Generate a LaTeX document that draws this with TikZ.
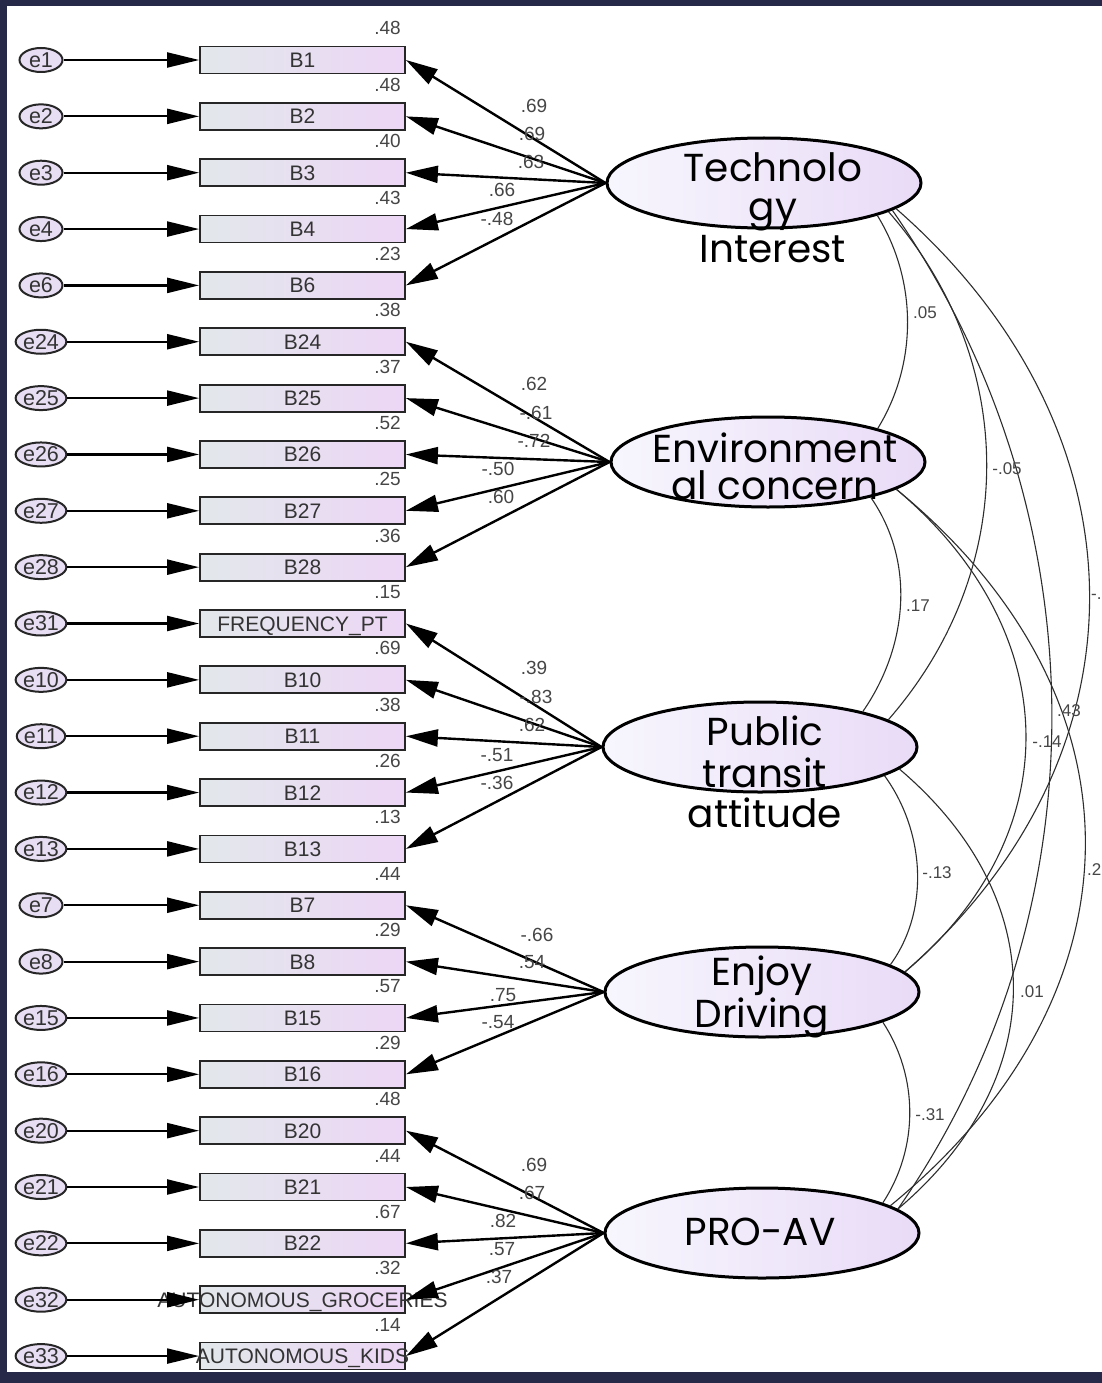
\documentclass[tikz,border=0pt]{standalone}
\usepackage{fontspec}
\setmainfont{Liberation Sans}
\newfontfamily\gothicfont{Poppins}
\usepackage{tikz}
\usetikzlibrary{arrows.meta,shapes.geometric}
\definecolor{framenavy}{RGB}{38,41,72}
\definecolor{boxL}{RGB}{226,232,235}
\definecolor{boxR}{RGB}{237,214,246}
\definecolor{latL}{RGB}{247,246,253}
\definecolor{latR}{RGB}{233,219,247}
\definecolor{errfill}{RGB}{232,222,244}
\definecolor{numgray}{RGB}{70,70,70}
\definecolor{linkgray}{RGB}{45,45,45}

\begin{document}
\begin{tikzpicture}[x=1pt,y=-1pt,
    obsbox/.style={draw=black!85,line width=1.8pt,left color=boxL,right color=boxR,
      minimum width=205pt,minimum height=27pt,inner sep=0pt,text height=15pt,text depth=0pt,
      font=\fontsize{21}{21}\selectfont,text=black!80},
    errnode/.style={ellipse,draw=black!85,line width=2pt,fill=errfill,minimum width=43pt,
      minimum height=24pt,inner sep=0pt,font=\fontsize{21.5}{21.5}\selectfont,text=black!80},
    latent/.style={ellipse,draw,line width=3pt,left color=latL,right color=latR,
      minimum width=314pt,minimum height=90pt,inner sep=0pt},
    lattext/.style={anchor=base,inner sep=0pt,font=\gothicfont\fontsize{39}{39}\selectfont},
    errarrow/.style={line width=2.2pt,-{Triangle[length=32pt,width=15pt]}},
    load/.style={line width=2.4pt,-{Triangle[length=32pt,width=17pt]}},
    cov/.style={line width=1.1pt,linkgray},
    num/.style={inner sep=0pt,text=numgray,font=\fontsize{19}{19}\selectfont},
    covnum/.style={inner sep=0pt,text=numgray,font=\fontsize{17}{17}\selectfont}]
  \useasboundingbox (0,0) rectangle (1102,1383);
  \fill[framenavy] (0,0) rectangle (1102,1383);
  \fill[white] (7,6) rectangle (1102,1372);

  % latent factors
  \node[latent] (tech) at (764,183) {};
  \node[latent] (env) at (768,462) {};
  \node[latent] (pub) at (760,747) {};
  \node[latent] (enj) at (762,992) {};
  \node[latent] (pro) at (762,1233) {};
  \node[lattext] (tech1) at (773,182) {Technolo};
  \node[lattext] (tech2) at (773,220) {gy};
  \node[lattext] (tech3) at (773,262) {Interest};
  \node[lattext] (env1) at (775,462) {Environment};
  \node[lattext] (env2) at (775,499) {al concern};
  \node[lattext] (pub1) at (765,745) {Public};
  \node[lattext] (pub2) at (765,787) {transit};
  \node[lattext] (pub3) at (765,827) {attitude};
  \node[lattext] (enj1) at (762,985) {Enjoy};
  \node[lattext] (enj2) at (762,1027) {Driving};
  \node[lattext] (pro1) at (760,1245) {PRO-AV};

  % covariances
  \draw[cov] (tech.-16) .. controls +(40,65) and +(40,-65) .. (env.17);
  \draw[cov] (env.-19) .. controls +(45,65) and +(45,-65) .. (pub.19);
  \draw[cov] (pub.-13) .. controls +(40,55) and +(40,-55) .. (enj.12);
  \draw[cov] (enj.-14) .. controls +(36,55) and +(36,-55) .. (pro.14);
  \draw[cov] (tech.-13) .. controls +(131,150) and +(131,-150) .. (pub.12);
  \draw[cov] (env.-12) .. controls +(167,140) and +(167,-140) .. (enj.8);
  \draw[cov] (pub.-9) .. controls +(153,130) and +(153,-130) .. (pro.10);
  \draw[cov] (tech.-11) .. controls +(252,220) and +(252,-220) .. (enj.8);
  \draw[cov] (tech.-12) .. controls +(209,300) and +(209,-300) .. (pro.10);
  \draw[cov] (env.-12) .. controls +(256,210) and +(256,-210) .. (pro.12);
  \node[covnum] (c1) at (925,313) {.05};
  \node[covnum] (c2) at (918,606) {.17};
  \node[covnum] (c3) at (937,873) {-.13};
  \node[covnum] (c4) at (930,1115) {-.31};
  \node[covnum] (c5) at (1007,469) {-.05};
  \node[covnum] (c6) at (1047,742) {-.14};
  \node[covnum] (c7) at (1032,992) {.01};
  \node[covnum,anchor=west] (c8) at (1091,597) {-.};
  \node[covnum] (c9) at (1069,711) {.43};
  \node[covnum,anchor=west] (c10) at (1087,870) {.2};

  % indicators and errors
  \foreach \i/\e/\b/\v [evaluate=\i as \y using 60+\i*56.35] in
    {0/e1/B1/.48, 1/e2/B2/.48, 2/e3/B3/.40, 3/e4/B4/.43, 4/e6/B6/.23,
     5/e24/B24/.38, 6/e25/B25/.37, 7/e26/B26/.52, 8/e27/B27/.25, 9/e28/B28/.36,
     10/e31/FREQUENCY\_PT/.15, 11/e10/B10/.69, 12/e11/B11/.38, 13/e12/B12/.26, 14/e13/B13/.13,
     15/e7/B7/.44, 16/e8/B8/.29, 17/e15/B15/.57, 18/e16/B16/.29,
     19/e20/B20/.48, 20/e21/B21/.44, 21/e22/B22/.67, 22/e32/AUTONOMOUS\_GROCERIES/.32,
     23/e33/AUTONOMOUS\_KIDS/.14}{
    \node[obsbox] (obs\i) at (302.5,\y) {\makebox[0pt]{\b}};
    \node[errnode] (err\i) at (41,\y) {\e};
    \node[num,anchor=base east] (var\i) at (401,\y-25) {\v};
    \draw[errarrow] (err\i.east) -- (obs\i.west);
  }

  % loadings
  \foreach \i/\f/\l/\lx/\ly in
    {0/tech/.69/534/106, 1/tech/.69/532/134, 2/tech/.63/531/162, 3/tech/.66/502/190, 4/tech/-.48/497/219,
     5/env/.62/534/384, 6/env/-.61/536/413, 7/env/-.72/534/441, 8/env/-.50/498/469, 9/env/.60/501/497,
     10/pub/.39/534/668, 11/pub/-.83/536/697, 12/pub/.62/532/725, 13/pub/-.51/497/755, 14/pub/-.36/497/783,
     15/enj/-.66/537/935, 16/enj/.54/532/962, 17/enj/.75/503/995, 18/enj/-.54/498/1022,
     19/pro/.69/534/1165, 20/pro/.67/532/1193, 21/pro/.82/503/1221, 22/pro/.57/502/1249, 23/pro/.37/499/1277}{
    \draw[load] (\f.west) -- (obs\i.east);
    \node[num] (lod\i) at (\lx,\ly) {\l};
  }
\end{tikzpicture}
\end{document}
